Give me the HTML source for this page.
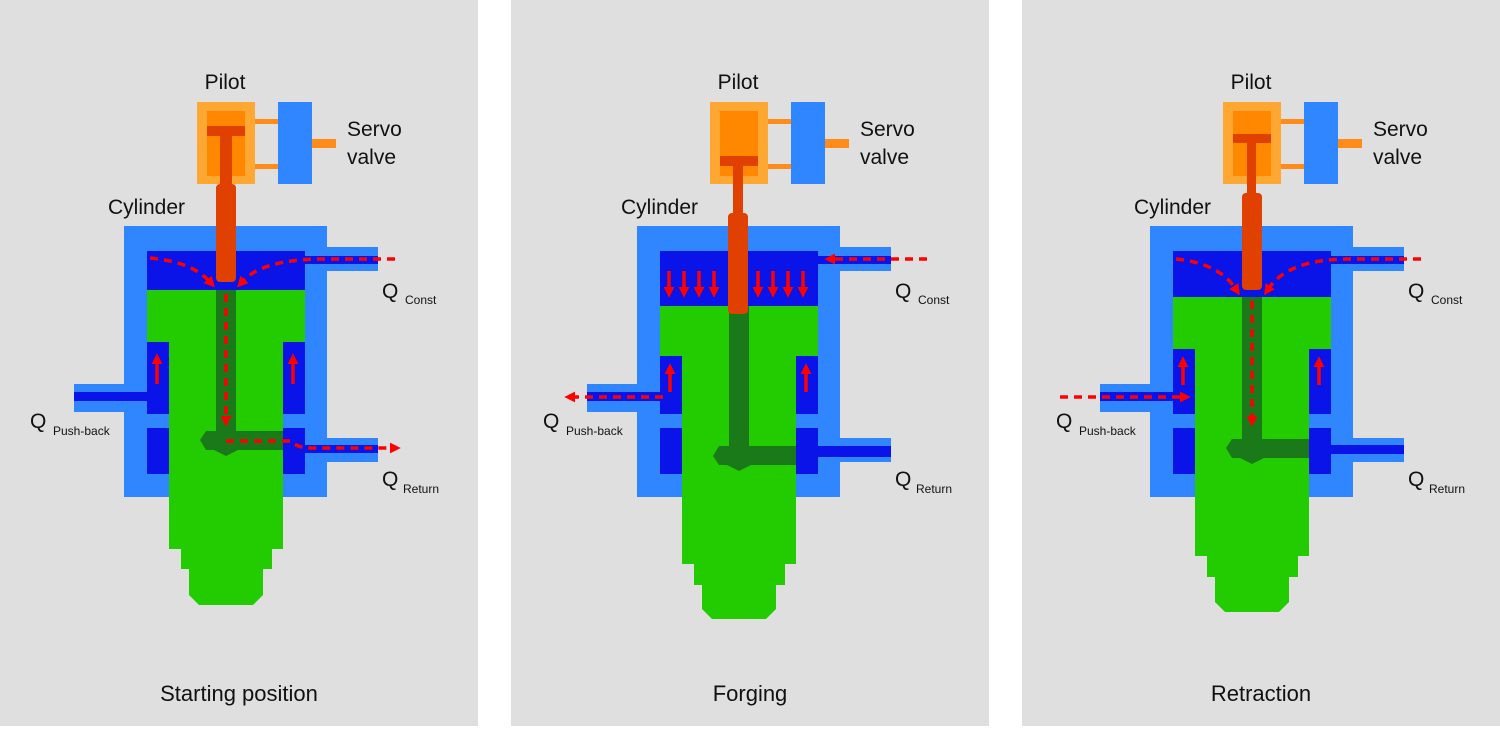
<!DOCTYPE html>
<html><head><meta charset="utf-8"><style>
html,body{margin:0;padding:0;background:#fff;}
svg{display:block;}
text{font-family:"Liberation Sans",sans-serif;fill:#111;}
</style></head><body>
<svg width="1500" height="729" viewBox="0 0 1500 729" xmlns="http://www.w3.org/2000/svg">
<defs>
<marker id="ah" viewBox="0 0 10 10" refX="2" refY="5" markerWidth="11" markerHeight="11" markerUnits="userSpaceOnUse" orient="auto"><path d="M0,0 L10,5 L0,10 z" fill="#ff0000"/></marker>
</defs>
<rect x="0" y="0" width="478" height="726" fill="#dfdfdf"/>
<rect x="511" y="0" width="478" height="726" fill="#dfdfdf"/>
<rect x="1022" y="0" width="478" height="726" fill="#dfdfdf"/>

<!-- common drawing per panel via groups -->
<g id="p1">
 <text x="225" y="89" font-size="21" text-anchor="middle">Pilot</text>
 <text x="347" y="136" font-size="21">Servo</text>
 <text x="347" y="164" font-size="21">valve</text>
 <text x="108" y="214" font-size="21">Cylinder</text>
 <rect x="245" y="119" width="33" height="5" fill="#ff8c1a"/>
 <rect x="245" y="164" width="33" height="5" fill="#ff8c1a"/>
 <rect x="278" y="102" width="34" height="82" fill="#2f86ff"/>
 <rect x="312" y="139" width="24" height="9" fill="#ff8c1a"/>
 <rect x="197" y="102" width="58" height="82" fill="#ffa733"/>
 <rect x="207" y="111" width="38" height="65" fill="#ff8800"/>
 <!-- cylinder -->
 <rect x="124" y="226" width="203" height="271" fill="#2f86ff"/>
 <rect x="320" y="247" width="58" height="24" fill="#2f86ff"/>
 <rect x="320" y="438" width="58" height="24" fill="#2f86ff"/>
 <rect x="74" y="384" width="56" height="28" fill="#2f86ff"/>
 <rect x="300" y="256" width="78" height="8" fill="#0a14e8"/>
 <rect x="300" y="445" width="78" height="8" fill="#0a14e8"/>
 <rect x="74" y="392" width="78" height="9" fill="#0a14e8"/>
 <rect x="147" y="342" width="22" height="72" fill="#0a14e8"/>
 <rect x="283" y="342" width="22" height="72" fill="#0a14e8"/>
 <rect x="147" y="428" width="22" height="46" fill="#0a14e8"/>
 <rect x="283" y="428" width="22" height="46" fill="#0a14e8"/>
 <rect x="147" y="251" width="158" height="39" fill="#0a14e8"/>
 <rect x="147" y="290" width="158" height="52" fill="#22cc00"/>
 <rect x="169" y="342" width="114" height="207" fill="#22cc00"/>
 <rect x="181" y="549" width="91" height="20" fill="#22cc00"/>
 <polygon points="189,569 263,569 263,595 253,605 199,605 189,595" fill="#22cc00"/>
 <rect x="216" y="290" width="20" height="145" fill="#1a7a1a"/>
 <polygon points="200,440 206,431 283,431 283,450 238,450 226,456 214,450 206,450" fill="#1a7a1a"/>
 <rect x="219" y="282" width="14" height="8" fill="#0a14e8"/>
 <rect x="207" y="126" width="38" height="10" fill="#e04000"/>
 <rect x="220" y="136" width="12" height="48" fill="#e04000"/>
 <rect x="216" y="184" width="20" height="98" rx="4" fill="#e04000"/>
 <g stroke="#ff0000" stroke-width="3.5" fill="none" stroke-dasharray="8 6">
  <path d="M150,258 Q192,262 209,281" marker-end="url(#ah)"/>
  <path d="M395,259 L320,259 Q262,260 243,281" marker-end="url(#ah)"/>
  <path d="M226,294 L226,418" marker-end="url(#ah)"/>
  <path d="M226,441 L290,441 Q298,448 310,448 L392,448" marker-end="url(#ah)"/>
 </g>
 <g stroke="#ff0000" stroke-width="3.5" fill="none">
  <path d="M157,384 L157,362" marker-end="url(#ah)"/>
  <path d="M293,384 L293,362" marker-end="url(#ah)"/>
 </g>
 <text x="382" y="298" font-size="21">Q</text><text x="405" y="304" font-size="12">Const</text>
 <text x="382" y="486" font-size="21">Q</text><text x="403" y="493" font-size="12">Return</text>
 <text x="30" y="428" font-size="21">Q</text><text x="53" y="435" font-size="12">Push-back</text>
 <text x="239" y="701" font-size="22" text-anchor="middle">Starting position</text>
</g>

<g transform="translate(513,0)">
 <text x="225" y="89" font-size="21" text-anchor="middle">Pilot</text>
 <text x="347" y="136" font-size="21">Servo</text>
 <text x="347" y="164" font-size="21">valve</text>
 <text x="108" y="214" font-size="21">Cylinder</text>
 <rect x="245" y="119" width="33" height="5" fill="#ff8c1a"/>
 <rect x="245" y="164" width="33" height="5" fill="#ff8c1a"/>
 <rect x="278" y="102" width="34" height="82" fill="#2f86ff"/>
 <rect x="312" y="139" width="24" height="9" fill="#ff8c1a"/>
 <rect x="197" y="102" width="58" height="82" fill="#ffa733"/>
 <rect x="207" y="111" width="38" height="65" fill="#ff8800"/>
 <rect x="124" y="226" width="203" height="271" fill="#2f86ff"/>
 <rect x="320" y="247" width="58" height="24" fill="#2f86ff"/>
 <rect x="320" y="438" width="58" height="24" fill="#2f86ff"/>
 <rect x="74" y="384" width="56" height="28" fill="#2f86ff"/>
 <rect x="300" y="256" width="78" height="8" fill="#0a14e8"/>
 <rect x="300" y="446" width="78" height="11" fill="#0a14e8"/>
 <rect x="74" y="392" width="78" height="9" fill="#0a14e8"/>
 <rect x="147" y="356" width="22" height="58" fill="#0a14e8"/>
 <rect x="283" y="356" width="22" height="58" fill="#0a14e8"/>
 <rect x="147" y="428" width="22" height="46" fill="#0a14e8"/>
 <rect x="283" y="428" width="22" height="46" fill="#0a14e8"/>
 <rect x="147" y="251" width="158" height="55" fill="#0a14e8"/>
 <rect x="147" y="306" width="158" height="50" fill="#22cc00"/>
 <rect x="169" y="356" width="114" height="208" fill="#22cc00"/>
 <rect x="181" y="564" width="91" height="21" fill="#22cc00"/>
 <polygon points="189,585 263,585 263,609 253,619 199,619 189,609" fill="#22cc00"/>
 <rect x="216" y="306" width="20" height="145" fill="#1a7a1a"/>
 <polygon points="200,456 206,446 283,446 283,465 238,465 226,471 214,465 206,465" fill="#1a7a1a"/>
 <rect x="207" y="156" width="38" height="10" fill="#e04000"/>
 <rect x="220" y="166" width="10" height="49" fill="#e04000"/>
 <rect x="215" y="213" width="20" height="101" rx="4" fill="#e04000"/>
 <g stroke="#ff0000" stroke-width="3.5" fill="none" stroke-dasharray="8 6">
  <path d="M414,259 L320,259" marker-end="url(#ah)"/>
  <path d="M150,397 L60,397" marker-end="url(#ah)"/>
 </g>
 <g stroke="#ff0000" stroke-width="3.5" fill="none">
  <path d="M156,271 L156,289" marker-end="url(#ah)"/>
  <path d="M171,271 L171,289" marker-end="url(#ah)"/>
  <path d="M186,271 L186,289" marker-end="url(#ah)"/>
  <path d="M201,271 L201,289" marker-end="url(#ah)"/>
  <path d="M245,271 L245,289" marker-end="url(#ah)"/>
  <path d="M260,271 L260,289" marker-end="url(#ah)"/>
  <path d="M275,271 L275,289" marker-end="url(#ah)"/>
  <path d="M290,271 L290,289" marker-end="url(#ah)"/>
  <path d="M157,392 L157,372" marker-end="url(#ah)"/>
  <path d="M293,392 L293,372" marker-end="url(#ah)"/>
 </g>
 <text x="382" y="298" font-size="21">Q</text><text x="405" y="304" font-size="12">Const</text>
 <text x="382" y="486" font-size="21">Q</text><text x="403" y="493" font-size="12">Return</text>
 <text x="30" y="428" font-size="21">Q</text><text x="53" y="435" font-size="12">Push-back</text>
 <text x="237" y="701" font-size="22" text-anchor="middle">Forging</text>
</g>

<g transform="translate(1026,0)">
 <text x="225" y="89" font-size="21" text-anchor="middle">Pilot</text>
 <text x="347" y="136" font-size="21">Servo</text>
 <text x="347" y="164" font-size="21">valve</text>
 <text x="108" y="214" font-size="21">Cylinder</text>
 <rect x="245" y="119" width="33" height="5" fill="#ff8c1a"/>
 <rect x="245" y="164" width="33" height="5" fill="#ff8c1a"/>
 <rect x="278" y="102" width="34" height="82" fill="#2f86ff"/>
 <rect x="312" y="139" width="24" height="9" fill="#ff8c1a"/>
 <rect x="197" y="102" width="58" height="82" fill="#ffa733"/>
 <rect x="207" y="111" width="38" height="65" fill="#ff8800"/>
 <rect x="124" y="226" width="203" height="271" fill="#2f86ff"/>
 <rect x="320" y="247" width="58" height="24" fill="#2f86ff"/>
 <rect x="320" y="438" width="58" height="24" fill="#2f86ff"/>
 <rect x="74" y="384" width="56" height="28" fill="#2f86ff"/>
 <rect x="300" y="256" width="78" height="8" fill="#0a14e8"/>
 <rect x="300" y="445" width="78" height="9" fill="#0a14e8"/>
 <rect x="74" y="392" width="78" height="9" fill="#0a14e8"/>
 <rect x="147" y="349" width="22" height="65" fill="#0a14e8"/>
 <rect x="283" y="349" width="22" height="65" fill="#0a14e8"/>
 <rect x="147" y="428" width="22" height="46" fill="#0a14e8"/>
 <rect x="283" y="428" width="22" height="46" fill="#0a14e8"/>
 <rect x="147" y="251" width="158" height="46" fill="#0a14e8"/>
 <rect x="147" y="297" width="158" height="52" fill="#22cc00"/>
 <rect x="169" y="349" width="114" height="207" fill="#22cc00"/>
 <rect x="181" y="556" width="91" height="21" fill="#22cc00"/>
 <polygon points="189,577 263,577 263,602 253,612 199,612 189,602" fill="#22cc00"/>
 <rect x="216" y="297" width="20" height="145" fill="#1a7a1a"/>
 <polygon points="200,448 206,439 283,439 283,458 238,458 226,464 214,458 206,458" fill="#1a7a1a"/>
 <rect x="219" y="290" width="14" height="7" fill="#0a14e8"/>
 <rect x="207" y="134" width="38" height="9" fill="#e04000"/>
 <rect x="221" y="143" width="9" height="50" fill="#e04000"/>
 <rect x="216" y="193" width="20" height="97" rx="4" fill="#e04000"/>
 <g stroke="#ff0000" stroke-width="3.5" fill="none" stroke-dasharray="8 6">
  <path d="M150,259 Q192,263 209,288" marker-end="url(#ah)"/>
  <path d="M395,259 L320,259 Q262,260 243,288" marker-end="url(#ah)"/>
  <path d="M226,301 L226,418" marker-end="url(#ah)"/>
  <path d="M34,397 L156,397" marker-end="url(#ah)"/>
 </g>
 <g stroke="#ff0000" stroke-width="3.5" fill="none">
  <path d="M157,385 L157,365" marker-end="url(#ah)"/>
  <path d="M293,385 L293,365" marker-end="url(#ah)"/>
 </g>
 <text x="382" y="298" font-size="21">Q</text><text x="405" y="304" font-size="12">Const</text>
 <text x="382" y="486" font-size="21">Q</text><text x="403" y="493" font-size="12">Return</text>
 <text x="30" y="428" font-size="21">Q</text><text x="53" y="435" font-size="12">Push-back</text>
 <text x="235" y="701" font-size="22" text-anchor="middle">Retraction</text>
</g>
</svg>
</body></html>
